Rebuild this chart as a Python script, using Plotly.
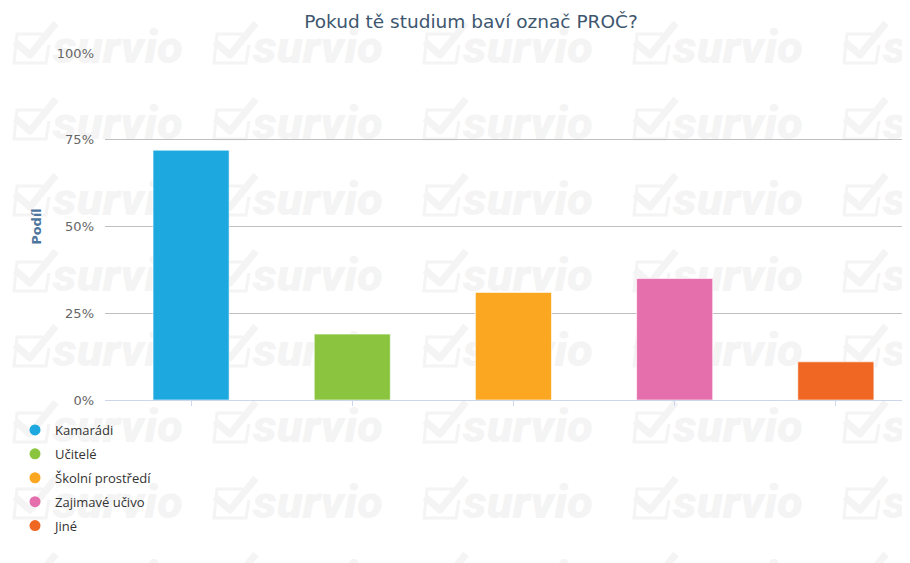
import base64
import plotly.graph_objects as go

# ---------------- data ----------------
categories = ["Kamarádi", "Učitelé", "Školní prostředí", "Zajimavé učivo", "Jiné"]
shares = [72, 19, 31, 35, 11]          # percent
colors = ["#1ea8e0", "#8bc540", "#fba722", "#e56fac", "#f06724"]
y_ticks = [0, 25, 50, 75, 100]
y_tick_labels = ["0%", "25%", "50%", "75%", "100%"]

TITLE = "Pokud tě studium baví označ PROČ?"
Y_TITLE = "Podíl"

# the page body adds an 8px offset; positions below are in figure pixels
W, H = 910, 563
ML, MR, MT, MB = 97, 8, 45, 171

# ---------------- watermark (background decoration) ----------------
wm_cols = [5, 205, 415, 625, 835]
wm_rows = [55, 131, 207, 283, 358, 434, 510, 586]
wm_color = "#f4f4f4"
parts = []
for yb in wm_rows:
    for x0 in wm_cols:
        parts.append(
            f'<polyline points="{x0+30},{yb-29} {x0+4},{yb-29} {x0+1},{yb} {x0+33},{yb} {x0+36},{yb-18}" '
            f'fill="none" stroke="{wm_color}" stroke-width="3"/>'
        )
        parts.append(
            f'<polyline points="{x0+2},{yb-21} {x0+17},{yb-8} {x0+43},{yb-40}" fill="none" '
            f'stroke="{wm_color}" stroke-width="7" stroke-linejoin="round"/>'
        )
        parts.append(
            f'<text x="{x0+40}" y="{yb}" font-family="Roboto" font-weight="900" font-style="italic" '
            f'font-size="46" fill="{wm_color}" textLength="130" lengthAdjust="spacingAndGlyphs">survio</text>'
        )
svg = (f'<svg xmlns="http://www.w3.org/2000/svg" width="{W}" height="{H}" viewBox="0 0 {W} {H}">'
       + "".join(parts) + "</svg>")
svg_uri = "data:image/svg+xml;base64," + base64.b64encode(svg.encode("utf-8")).decode("ascii")

pw = W - ML - MR
ph = H - MT - MB

fig = go.Figure()

fig.add_trace(go.Bar(
    x=categories,
    y=shares,
    marker=dict(color=colors, line=dict(color="rgba(255,255,255,0.6)", width=1)),
    width=0.472,
    showlegend=False,
    hovertemplate="%{x}: %{y}%<extra></extra>",
))

# legend entries with circle symbols
for i, (name, c) in enumerate(zip(categories, colors)):
    fig.add_trace(go.Scatter(
        x=[None], y=[None], mode="markers", name=name,
        marker=dict(symbol="circle", size=11, color=c),
        legendgroup=f"g{i}",
    ))

fig.update_layout(
    width=W, height=H,
    margin=dict(l=ML, r=MR, t=MT, b=MB, pad=0, autoexpand=False),
    paper_bgcolor="#ffffff",
    plot_bgcolor="rgba(0,0,0,0)",
    title=dict(
        text=TITLE,
        x=463 / W, xref="container", xanchor="center",
        y=1 - 14 / H, yref="container", yanchor="middle",
        font=dict(family="DejaVu Sans", size=18.5, color="#3e576f"),
    ),
    xaxis=dict(
        type="category",
        range=[-0.534, 4.46],
        showgrid=False,
        showline=True, linecolor="#ccd6eb", linewidth=1,
        ticks="outside", ticklen=5, tickcolor="#ccd6eb", tickwidth=1,
        showticklabels=False,
        zeroline=False,
        fixedrange=True,
    ),
    yaxis=dict(
        range=[0, 100],
        tickmode="array",
        tickvals=y_ticks,
        ticktext=y_tick_labels,
        showgrid=True, gridcolor="#c0c0c0", gridwidth=1,
        zeroline=False, showline=False,
        ticks="",
        ticklabelstandoff=10,
        tickfont=dict(family="DejaVu Sans", size=13, color="#666666"),
        title=dict(text=Y_TITLE, standoff=12,
                   font=dict(family="DejaVu Sans", size=13, color="#4d759e", weight="bold")),
        fixedrange=True,
    ),
    legend=dict(
        xref="paper", yref="paper",
        x=(7 - ML) / pw, y=1 - (407 - MT) / ph, xanchor="left", yanchor="top",
        font=dict(family="Open Sans", size=13, color="#333333"),
        traceorder="grouped", tracegroupgap=4,
        bgcolor="rgba(0,0,0,0)",
        itemclick=False, itemdoubleclick=False,
    ),
    images=[dict(
        source=svg_uri, xref="paper", yref="paper",
        x=-ML / pw, y=1 + MT / ph, sizex=W / pw, sizey=H / ph,
        xanchor="left", yanchor="top", sizing="stretch", layer="below",
    )],
    bargap=0.5,
)

fig.write_html("out.html")
